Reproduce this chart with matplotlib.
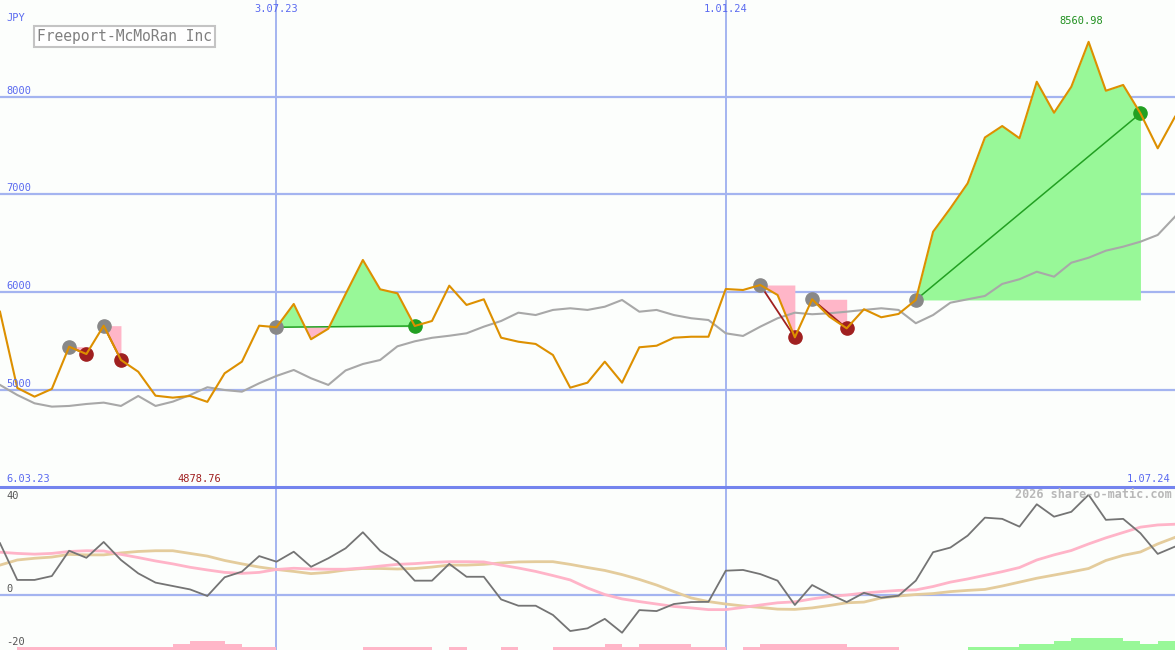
import matplotlib
matplotlib.use("Agg")
import matplotlib.pyplot as plt
import numpy as np

# weekly closes, 13.03.23 .. 1.07.24 (JPY)
price = [5801, 5021, 4932, 5011, 5443, 5368, 5658, 5307, 5187, 4942,
         4922, 4939, 4878.76, 5171, 5290, 5658, 5642, 5880, 5519, 5627,
         5982, 6330, 6030, 5989, 5655, 5706, 6067, 5870, 5928, 5535,
         5494, 5471, 5358, 5024, 5075, 5290, 5075, 5437, 5453, 5535,
         5545, 5545, 6033, 6023, 6074, 5972, 5539, 5928, 5750, 5631,
         5826, 5744, 5778, 5921, 6619, 6859, 7114, 7583, 7700, 7575,
         8153, 7836, 8102, 8560.98, 8061, 8120, 7830, 7472, 7795]
avg_long = [5052, 4949, 4864, 4830, 4837, 4857, 4871, 4837, 4939, 4837,
            4881, 4949, 5028, 5000, 4983, 5069, 5144, 5205, 5120, 5052,
            5200, 5266, 5307, 5447, 5498, 5534, 5555, 5580, 5648, 5706,
            5791, 5767, 5819, 5836, 5819, 5852, 5921, 5801, 5819, 5767,
            5734, 5716, 5580, 5553, 5648, 5734, 5791, 5775, 5785, 5801,
            5819, 5836, 5819, 5683, 5767, 5893, 5928, 5962, 6085, 6133,
            6210, 6159, 6302, 6353, 6425, 6466, 6517, 6586, 6773]

# lower panel
momentum = [21.3, 6.2, 6.2, 7.8, 18.2, 15.3, 21.8, 14.4, 8.9, 5.1,
            3.7, 2.3, -0.4, 7.3, 9.6, 16.0, 13.7, 17.8, 11.6, 15.1,
            19.2, 25.8, 18.2, 13.7, 5.9, 5.9, 12.8, 7.5, 7.5, -1.8,
            -4.4, -4.4, -8.2, -14.8, -13.7, -9.8, -15.5, -6.2, -6.6, -3.7,
            -2.9, -2.8, 10.0, 10.3, 8.6, 5.9, -4.1, 4.1, 0.4, -2.9,
            0.9, -1.1, -0.3, 5.9, 17.6, 19.5, 24.4, 31.8, 31.3, 28.1,
            37.3, 32.2, 34.2, 41.2, 30.9, 31.3, 25.4, 16.9, 19.9]
mom_fast = [17.6, 17.1, 16.8, 17.1, 17.9, 18.2, 18.1, 16.7, 15.4, 14.0,
            12.8, 11.4, 10.3, 9.3, 8.9, 9.3, 10.5, 11.0, 10.7, 10.6,
            10.6, 11.1, 11.9, 12.6, 12.9, 13.4, 13.7, 13.7, 13.6, 12.3,
            11.1, 9.7, 8.0, 6.2, 2.9, 0.2, -1.6, -2.7, -3.7, -4.7,
            -5.3, -6.0, -6.0, -5.1, -4.1, -3.2, -2.8, -1.6, -0.6, 0.0,
            0.8, 1.4, 1.9, 2.1, 3.5, 5.3, 6.6, 8.1, 9.6, 11.3,
            14.4, 16.5, 18.3, 21.0, 23.5, 25.7, 27.9, 28.8, 29.1]
mom_slow = [12.3, 14.4, 15.1, 15.6, 16.7, 16.5, 16.5, 17.3, 17.9, 18.2,
            18.2, 17.1, 16.0, 14.2, 12.8, 11.5, 10.5, 9.7, 8.8, 9.3,
            10.3, 10.9, 10.9, 10.7, 10.9, 11.5, 12.3, 12.3, 12.6, 13.2,
            13.6, 13.7, 13.7, 12.6, 11.3, 10.1, 8.4, 6.4, 4.1, 1.4,
            -1.2, -2.7, -3.7, -4.5, -5.1, -5.8, -5.9, -5.3, -4.3, -3.2,
            -2.9, -1.2, -0.4, 0.2, 0.6, 1.4, 1.9, 2.3, 3.7, 5.3,
            6.9, 8.2, 9.5, 10.9, 14.2, 16.3, 17.7, 21.0, 23.7]
# signal strength bars (+ green, - pink), one per week
signal = [0, -1, -1, -1, -1, -1, -1, -1, -1, -1,
          -2, -3, -3, -2, -1, -1, 0, 0, 0, 0,
          0, -1, -1, -1, -1, 0, -1, 0, 0, -1,
          0, 0, -1, -1, -1, -2, -1, -2, -2, -2,
          -1, -1, 0, -1, -2, -2, -2, -2, -2, -1,
          -1, -1, 0, 0, 0, 0, 1, 1, 1, 2,
          2, 3, 4, 4, 4, 3, 2, 3]

trade_start = [4, 6, 16, 44, 47, 53]
trade_end = [5, 7, 24, 46, 49, 66]

date_lines = [16, 42]
date_labels = ["3.07.23", "1.01.24"]
price_grid = [5000, 6000, 7000, 8000]

W, H = 1175, 650
bg = "#fcfefc"
grid_c = "#a4b4f0"
blue_txt = "#5a6af0"
green_fill = "#98f898"
pink_fill = "#ffb6c8"
mono = "DejaVu Sans Mono"

weeks = np.arange(len(price))
p = np.array(price, dtype=float)

fig = plt.figure(figsize=(W / 100, H / 100), dpi=100, facecolor=bg)
ax = fig.add_axes([0, 163 / H, 1, 487 / H])
ax2 = fig.add_axes([0, 0, 1, 163 / H])
for a in (ax, ax2):
    a.set_facecolor(bg)
    a.set_xlim(0, 68)
    a.axis("off")
    for d in date_lines:
        a.axvline(d, color=grid_c, lw=1.4, zorder=0)
ax.set_ylim(4008, 8989)
ax2.set_ylim(-22.6, 44.4)

for g in price_grid:
    ax.axhline(g, color=grid_c, lw=1.6, zorder=0)
ax2.axhline(0, color=grid_c, lw=1.6, zorder=0)

# trades
for s, e in zip(trade_start, trade_end):
    xs = weeks[s:e + 1]
    ps = p[s:e + 1]
    base = p[s]
    ax.fill_between(xs, ps, base, where=ps >= base, interpolate=True,
                    color=green_fill, lw=0, zorder=1)
    ax.fill_between(xs, ps, base, where=ps <= base, interpolate=True,
                    color=pink_fill, lw=0, zorder=1)
    win = p[e] > base
    lc = "#22a022" if win else "#a02020"
    ax.plot([s, e], [p[s], p[e]], color=lc, lw=1.3 if not win else 1.1, zorder=3)
    ax.plot(s, p[s], "o", color="#888888", ms=9.5, zorder=3)
    ax.plot(e, p[e], "o", color=lc, ms=9.5, zorder=3)

ax.plot(weeks, avg_long, color="#a8a8a8", lw=1.5, zorder=2)
ax.plot(weeks, price, color="#dd9000", lw=1.5, zorder=4)

# lower panel
ax2.plot(weeks, mom_slow, color="#e4cc9c", lw=2, zorder=2)
ax2.plot(weeks, mom_fast, color="#ffb4c8", lw=2, zorder=2)
ax2.plot(weeks, momentum, color="#747474", lw=1.3, zorder=3)
axb = ax2.twinx()
axb.set_ylim(0, 163 / 3)
axb.set_xlim(0, 68)
axb.axis("off")
sig = np.array(signal)
axb.bar(np.arange(len(sig)), np.abs(sig), width=1, align="edge",
        color=np.where(sig > 0, green_fill, pink_fill), lw=0)

# separator
fig.add_artist(plt.Line2D([0, 1], [163 / H, 163 / H], color="#7484ee", lw=2.2))


def txt(x, y, s, **kw):
    kw.setdefault("family", mono)
    kw.setdefault("fontsize", 7.5)
    kw.setdefault("va", "center")
    fig.text(x / W, 1 - y / H, s, **kw)


txt(6, 18, "JPY", color=blue_txt)
for g in price_grid:
    y = 96.7 + (8000 - g) * 0.09778
    txt(6, y - 6, str(g), color=blue_txt)
for d, lab in zip(date_lines, date_labels):
    txt(d * W / 68, 9, lab, color=blue_txt, ha="center")
txt(6, 479, "6.03.23", color=blue_txt)
txt(1170, 479, "1.07.24", color=blue_txt, ha="right")
txt(199, 479, "4878.76", color="#a02020", ha="center")
txt(1081, 21, "8560.98", color="#20901f", ha="center")
txt(37, 36.5, "Freeport-McMoRan Inc", color="#808080", fontsize=10.5,
    bbox=dict(boxstyle="square,pad=0.22", fc="white", ec="#c4c4c4", lw=1.5))

txt(6, 496, "40", color="#555555")
txt(6, 589, "0", color="#555555")
txt(6, 642, "-20", color="#555555")
txt(1172, 495, "2026 share-o-matic.com", color="#b8b8b8", ha="right",
    fontsize=8.5, fontweight="bold")

fig.savefig("out.png", dpi=100, facecolor=bg)
